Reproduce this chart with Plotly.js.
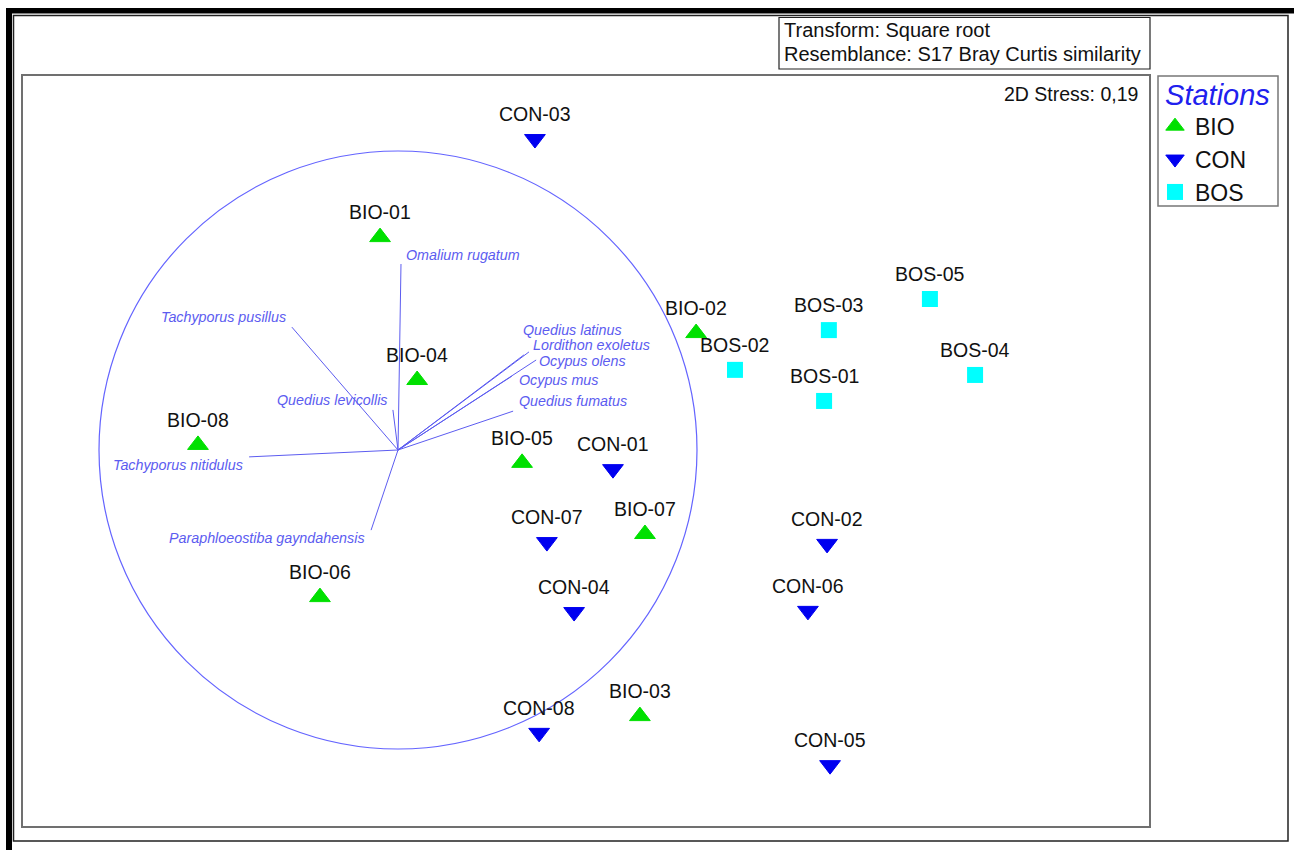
<!DOCTYPE html>
<html><head><meta charset="utf-8">
<script src="https://cdn.plot.ly/plotly-3.0.1.min.js"></script>
<style>html,body{margin:0;padding:0;background:#fff}#chart{width:1294px;height:850px}</style>
</head><body><div id="chart"></div>
<script>
// ---- data: nMDS station scores ----
const bioLabels = ['BIO-01','BIO-02','BIO-03','BIO-04','BIO-05','BIO-06','BIO-07','BIO-08'];
const bioX = [-0.060, 0.997, 0.809, 0.064, 0.415, -0.261, 0.826, -0.669];
const bioY = [0.712, 0.391, -0.890, 0.234, -0.043, -0.492, -0.281, 0.017];

const conLabels = ['CON-01','CON-02','CON-03','CON-04','CON-05','CON-06','CON-07','CON-08'];
const conX = [0.719, 1.435, 0.458, 0.589, 1.445, 1.371, 0.498, 0.472];
const conY = [-0.064, -0.314, 1.040, -0.542, -1.054, -0.538, -0.308, -0.946];

const bosLabels = ['BOS-01','BOS-02','BOS-03','BOS-04','BOS-05'];
const bosX = [1.425, 1.127, 1.441, 1.930, 1.779];
const bosY = [0.164, 0.268, 0.401, 0.251, 0.505];

// ---- data: species correlation vectors ----
const speciesNames = ['Omalium rugatum','Tachyporus pusillus','Quedius levicollis','Tachyporus nitidulus',
  'Paraphloeostiba gayndahensis','Quedius latinus','Lordithon exoletus','Ocypus olens','Ocypus mus','Quedius fumatus'];
const speciesX = [0.010, -0.355, -0.017, -0.498, -0.090, 0.421, 0.438, 0.462, 0.381, 0.385];
const speciesY = [0.622, 0.411, 0.134, -0.023, -0.268, 0.318, 0.328, 0.301, 0.247, 0.130];
const circleRadius = 1;

const groupNames = ['BIO','CON','BOS'];
const stressText = '2D Stress: 0,19';
const transformText = 'Transform: Square root';
const resemblanceText = 'Resemblance: S17 Bray Curtis similarity';
const legendTitle = 'Stations';

// ---- styles ----
const FONT = 'Arial, "Liberation Sans", sans-serif';
const W = 1294, H = 850;
const px = v => v / W, py = v => 1 - v / H;
const vecColor = '#5c5cf0';
const labelPlace = [
  {a:'left', dx:3, dy:9}, {a:'right', dx:-4, dy:10}, {a:'right', dx:-4, dy:10}, {a:'right', dx:-4, dy:-8},
  {a:'right', dx:-4, dy:-8}, {a:'left', dx:-3, dy:25}, {a:'left', dx:2, dy:7}, {a:'left', dx:1, dy:-1},
  {a:'left', dx:5, dy:-4}, {a:'left', dx:4, dy:10}
];

const vx = [], vy = [];
speciesX.forEach((x, i) => { vx.push(0, x, null); vy.push(0, speciesY[i], null); });

const traces = [
  {x: vx, y: vy, mode: 'lines', line: {color: vecColor, width: 1}, showlegend: false, hoverinfo: 'skip'},
  {x: bioX, y: bioY, text: bioLabels, name: groupNames[0], mode: 'markers', type: 'scatter',
   marker: {symbol: 'triangle-up', size: 18, color: '#00e000', line: {width: 1, color: '#00e000'}}},
  {x: conX, y: conY, text: conLabels, name: groupNames[1], mode: 'markers', type: 'scatter',
   marker: {symbol: 'triangle-down', size: 18, color: '#0000f0', line: {width: 1, color: '#0000f0'}}},
  {x: bosX, y: bosY, text: bosLabels, name: groupNames[2], mode: 'markers', type: 'scatter',
   marker: {symbol: 'square', size: 16, color: '#00ffff', line: {width: 0}}}
];

const annotations = [];
function addPointLabels(xs, ys, ls) {
  xs.forEach((x, i) => annotations.push({x: x, y: ys[i], xref: 'x', yref: 'y', text: ls[i], showarrow: false,
    xanchor: 'center', yanchor: 'middle', yshift: 25, font: {family: FONT, size: 19.5, color: '#111'}}));
}
addPointLabels(bioX, bioY, bioLabels);
addPointLabels(conX, conY, conLabels);
addPointLabels(bosX, bosY, bosLabels);
speciesNames.forEach((n, i) => annotations.push({x: speciesX[i], y: speciesY[i], xref: 'x', yref: 'y', text: n,
  showarrow: false, xanchor: labelPlace[i].a, yanchor: 'middle', xshift: labelPlace[i].dx, yshift: labelPlace[i].dy,
  font: {family: FONT, size: 14.3, color: vecColor, style: 'italic'}}));
annotations.push({x: px(782), y: py(30), xref: 'paper', yref: 'paper', text: transformText, showarrow: false,
  xanchor: 'left', yanchor: 'middle', font: {family: FONT, size: 20, color: '#111'}});
annotations.push({x: px(782), y: py(54), xref: 'paper', yref: 'paper', text: resemblanceText, showarrow: false,
  xanchor: 'left', yanchor: 'middle', font: {family: FONT, size: 20, color: '#111'}});
annotations.push({x: px(1140), y: py(94), xref: 'paper', yref: 'paper', text: stressText, showarrow: false,
  xanchor: 'right', yanchor: 'middle', font: {family: FONT, size: 19.5, color: '#111'}});

const shapes = [
  {type: 'circle', xref: 'x', yref: 'y', x0: -circleRadius, x1: circleRadius, y0: -circleRadius, y1: circleRadius,
   line: {color: '#6464ff', width: 1.2}},
  {type: 'rect', xref: 'x domain', yref: 'y domain', x0: 0, x1: 1, y0: 0, y1: 1, line: {color: '#707070', width: 2}},
  {type: 'rect', xref: 'paper', yref: 'paper', x0: px(779), x1: px(1150), y0: py(69), y1: py(17.5), line: {color: '#222', width: 1.2}},
  {type: 'rect', xref: 'paper', yref: 'paper', x0: px(1158), x1: px(1278), y0: py(206), y1: py(76), line: {color: '#777', width: 1.5}},
  {type: 'rect', xref: 'paper', yref: 'paper', x0: px(13.5), x1: px(1288), y0: py(841), y1: py(15.5), line: {color: '#222', width: 1.5}},
  {type: 'rect', xref: 'paper', yref: 'paper', x0: px(6), x1: 1, y0: py(13.5), y1: py(8), fillcolor: '#000', line: {width: 0}},
  {type: 'rect', xref: 'paper', yref: 'paper', x0: px(6), x1: px(12), y0: 0, y1: py(8), fillcolor: '#000', line: {width: 0}}
];

const axisCommon = {showgrid: false, zeroline: false, showticklabels: false, ticks: '', showline: false, fixedrange: true};
const layout = {
  width: W, height: H, margin: {l: 0, r: 0, t: 0, b: 0}, paper_bgcolor: '#fff', plot_bgcolor: '#fff',
  font: {family: FONT},
  xaxis: Object.assign({domain: [px(22), px(1150)], range: [-1.25753, 2.51505]}, axisCommon),
  yaxis: Object.assign({domain: [py(827), py(75)], range: [-1.26087, 1.25418]}, axisCommon),
  showlegend: true,
  legend: {x: px(1155), y: py(67), xanchor: 'left', yanchor: 'top', bgcolor: 'rgba(0,0,0,0)', borderwidth: 0,
    font: {family: FONT, size: 23, color: '#111'},
    title: {text: '&nbsp;' + legendTitle, font: {family: FONT, size: 29, color: '#2020ee', style: 'italic'}}},
  annotations: annotations, shapes: shapes
};
Plotly.newPlot('chart', traces, layout, {displayModeBar: false, staticPlot: true});
</script></body></html>
